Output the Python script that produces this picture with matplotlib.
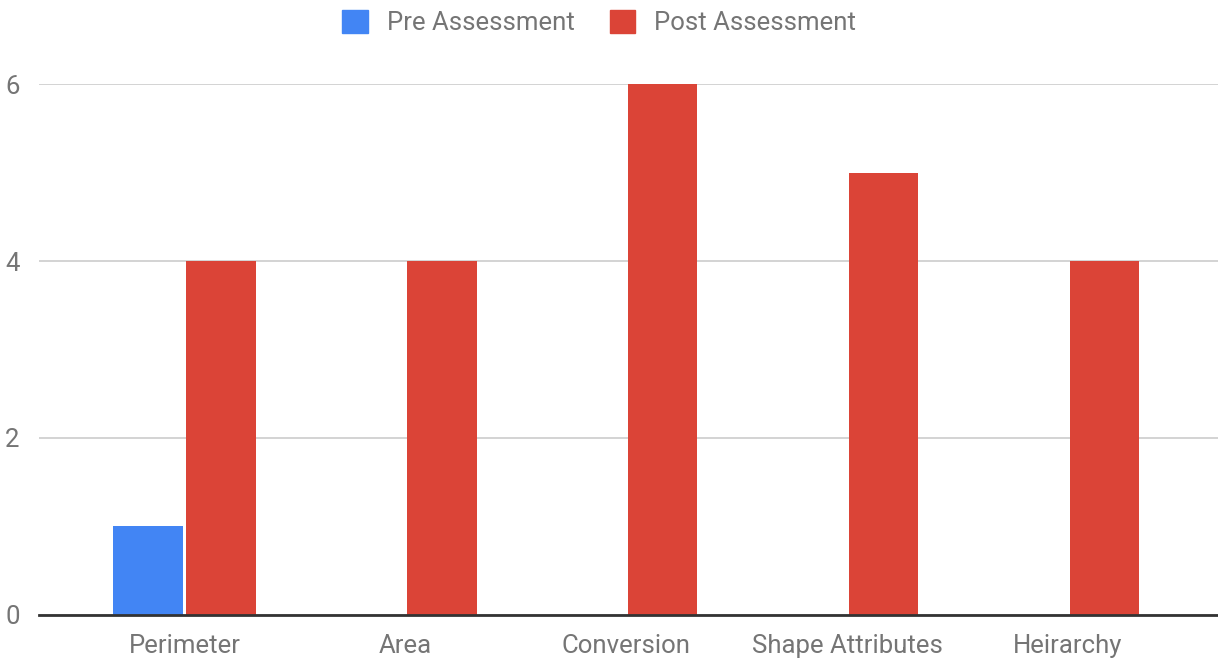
import matplotlib
matplotlib.use('Agg')
from matplotlib import pyplot as plt
from matplotlib.patches import Patch
import numpy as np

categories = ['Perimeter', 'Area', 'Conversion', 'Shape Attributes', 'Heirarchy']
pre_scores = [1, 0, 0, 0, 0]
post_scores = [4, 4, 6, 5, 4]
y_ticks = [0, 2, 4, 6]

blue = '#4285F4'
red = '#DB4437'
grey_text = '#757575'

plt.rcParams['font.family'] = ['Roboto', 'DejaVu Sans']

fig = plt.figure(figsize=(12.18, 6.67), dpi=100)
ax = fig.add_axes([0.032, 0.078, 0.968, 0.796])

x = np.arange(len(categories))
w = 0.315
ax.bar(x - 0.165, pre_scores, w, color=blue, zorder=3)
ax.bar(x + 0.165, post_scores, w, color=red, zorder=3)

ax.set_xlim(-0.66, 4.68)
ax.set_ylim(0, 6)
ax.set_yticks(y_ticks)
ax.set_xticks(x)
ax.set_xticklabels(categories)
ax.tick_params(axis='both', length=0, labelsize=18.5, labelcolor=grey_text)
ax.tick_params(axis='y', pad=14)
ax.tick_params(axis='x', pad=14)
ax.grid(axis='y', color='#cccccc', linewidth=1.2, zorder=0)
ax.set_axisbelow(True)
for s in ['top', 'right', 'left']:
    ax.spines[s].set_visible(False)
ax.spines['bottom'].set_color('#333333')
ax.spines['bottom'].set_linewidth(2)
ax.spines['bottom'].set_zorder(4)

handles = [Patch(color=blue, label='Pre Assessment'), Patch(color=red, label='Post Assessment')]
leg = fig.legend(handles=handles, loc='center', bbox_to_anchor=(0.492, 0.966), ncol=2,
                 frameon=False, fontsize=18.5, handlelength=1.0, handleheight=1.0,
                 handletextpad=0.74, columnspacing=1.35)
for t in leg.get_texts():
    t.set_color(grey_text)

fig.savefig('out.png', dpi=100)
plt.close(fig)
